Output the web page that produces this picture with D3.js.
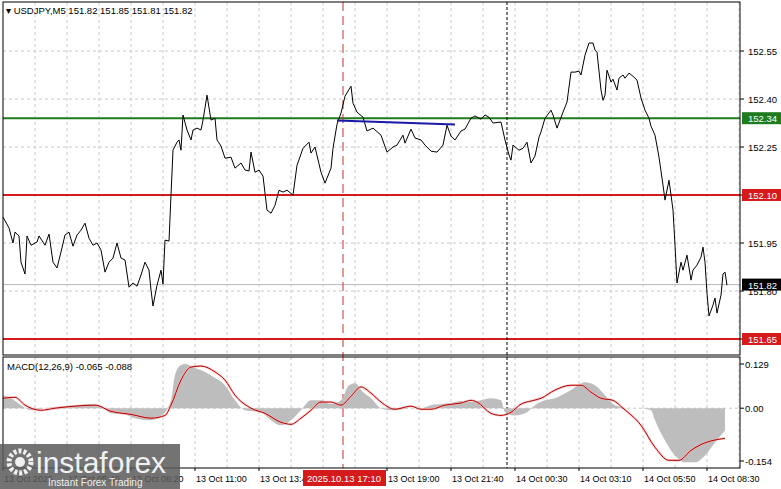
<!DOCTYPE html>
<html><head><meta charset="utf-8">
<script src="https://cdn.jsdelivr.net/npm/d3@7/dist/d3.min.js"></script>
<style>body{margin:0;background:#fff}text{font-family:"Liberation Sans",Arial,sans-serif}</style>
</head><body><svg id="c" width="781" height="489"></svg>
<script>
// bar index (5-minute bars) and close prices
const priceIdx=[0,3,5,6,8,9,11,12,14,17,18,21,23,25,27,29,31,33,35,37,39,41,43,45,47,49,51,53,55,57,59,61,63,65,67,69,71,73,74,75,77,79,80,81,83,84,85,87,88,89,90,92,94,95,97,99,100,102,104,106,107,109,111,114,116,119,121,123,
124,126,128,130,132,134,136,138,140,142,145,147,150,153,154,156,159,161,164,165,167,169,171,174,175,177,180,182,185,189,192,195,197,200,201,204,206,209,211,214,217,220,222,224,226,229,231,234,236,239,241,243,245,
249,251,253,254,255,258,260,262,264,266,268,269,271,274,275,277,280,282,284,286,288,289,291,293,295,296,297,299,300,301,302,304,305,307,308,310,311,313,315,317,319,321,323,324,326,328,330,331,333,334,335,336,337,339,340,342,344,345,347,349,350,351,352,353,355,356,357,359,360,361,362];
const priceVal=[152.031,151.997,151.950,151.984,151.972,151.890,151.853,151.972,151.943,151.953,151.972,151.943,151.978,151.890,151.872,151.922,151.975,151.984,151.940,151.975,151.990,152.012,151.965,151.943,151.950,151.928,151.859,151.890,151.903,151.950,151.903,151.897,151.812,151.825,151.815,151.850,151.890,151.865,151.803,151.753,151.818,151.865,151.822,151.959,151.956,152.100,152.240,152.265,152.272,152.240,152.350,152.303,152.272,152.303,152.309,152.303,152.334,152.412,152.334,152.340,152.272,152.253,152.215,152.218,152.184,152.200,152.178,152.175,
152.234,152.171,152.178,152.159,152.053,152.043,152.068,152.115,152.109,152.115,152.100,152.193,152.246,152.265,152.231,152.250,152.171,152.137,152.184,152.246,152.321,152.356,152.409,152.440,152.387,152.359,152.343,152.300,152.309,152.287,152.234,152.250,152.256,152.287,152.262,152.306,152.278,152.272,152.256,152.237,152.234,152.256,152.318,152.284,152.272,152.300,152.306,152.340,152.347,152.337,152.350,152.343,152.325,
152.328,152.272,152.225,152.209,152.256,152.240,152.246,152.265,152.200,152.222,152.281,152.297,152.340,152.365,152.350,152.309,152.359,152.390,152.484,152.484,152.487,152.475,152.537,152.575,152.575,152.553,152.546,152.428,152.396,152.412,152.490,152.453,152.462,152.428,152.465,152.475,152.465,152.481,152.471,152.459,152.403,152.365,152.340,152.315,152.287,152.218,152.131,152.084,152.146,152.100,152.053,151.943,151.825,151.890,151.865,151.912,151.834,151.865,151.881,151.906,151.937,151.890,151.793,151.722,151.756,151.778,151.731,151.787,151.853,151.859,151.818];
const histIdx=[0,4,9,14,21,29,36,44,49,54,61,66,74,79,84,86,89,91,96,101,106,111,116,121,129,134,139,144,149,154,159,164,169,173,176,180,184,189,194,199,204,209,214,219,224,229,234,239,244,249,251,256,261,266,271,276,284,291,296,301,306,314,319,324,326,331,336,341,346,351,356,361];
const histVal=[0.038,0.029,0.009,-0.006,0,0.006,0.009,0.012,0.006,-0.015,-0.018,-0.029,-0.035,-0.023,0.023,0.097,0.126,0.129,0.117,0.106,0.088,0.067,0.023,-0.006,-0.012,-0.035,-0.050,-0.035,-0.006,0.023,0.023,0.012,0.023,0.067,0.073,0.047,0.029,0,-0.006,-0.003,0,0,0.009,0.012,0.015,0.021,0.018,0.023,0.029,0.023,-0.012,-0.021,-0.015,0.009,0.023,0.029,0.053,0.076,0.067,0.038,0.009,0,0,-0.006,-0.035,-0.094,-0.138,-0.158,-0.158,-0.138,-0.100,-0.065];
const sigIdx=[0,6,11,19,26,36,46,54,64,74,81,84,89,94,99,106,111,116,124,131,139,144,149,154,159,164,169,174,179,184,189,196,204,209,214,221,229,234,237,244,249,254,259,264,269,276,284,289,294,299,305,310,319,326,333,338,344,349,355,361];
const sigVal=[0.029,0.032,0.009,-0.006,0,0.006,0.009,-0.009,-0.018,-0.029,-0.021,0.009,0.082,0.120,0.123,0.106,0.082,0.038,0,-0.015,-0.041,-0.047,-0.029,-0.006,0.018,0.018,0.009,0.035,0.062,0.044,0.018,-0.003,0.006,-0.003,-0.003,0.009,0.015,0.023,0.018,-0.015,-0.021,-0.012,0.012,0.021,0.029,0.053,0.067,0.067,0.047,0.029,0.023,0,-0.050,-0.114,-0.152,-0.152,-0.123,-0.106,-0.094,-0.088];
const priceTicks=[152.55,152.40,152.25,152.10,151.95,151.80,151.65];
const macdTicks=[0.129,0.00,-0.154];
const timeTickIdx=[0,32,64,96,128,192,224,256,288,320,352];
const timeTickLab=["13 Oct 2025","13 Oct 05:40","13 Oct 08:20","13 Oct 11:00","13 Oct 13:40","13 Oct 19:00","13 Oct 21:40","14 Oct 00:30","14 Oct 03:10","14 Oct 05:50","14 Oct 08:30"];
const levels=[{v:152.34,c:"#1e7b1e"},{v:152.10,c:"#d41a1a"},{v:151.65,c:"#d41a1a"}];
const lastPrice=151.82, cursorIdx=170, cursorLab="2025.10.13 17:10", sepIdx=252;
const blueLine={i0:167,v0:152.333,i1:226,v1:152.320};

const svg=d3.select("#c");
const L=3,R=740,T=2,B=355,MT=357,MB=468;
const x=d3.scaleLinear().domain([0,1]).range([L,L+2]);
const y=d3.scaleLinear().domain([152.55,151.65]).range([51,339]);
const ym=d3.scaleLinear().domain([0.129,-0.154]).range([364,461]);
const grid="#c8c8c8", FS=9.5;
for(let k=16;k<=368;k+=16){const gx=x(k);
 [[T,B],[MT,MB]].forEach(([a,b])=>svg.append("line").attr("x1",gx).attr("x2",gx).attr("y1",a).attr("y2",b).attr("stroke",grid).attr("stroke-dasharray","3,3"));}
priceTicks.forEach(v=>svg.append("line").attr("x1",L).attr("x2",R).attr("y1",y(v)).attr("y2",y(v)).attr("stroke",grid).attr("stroke-dasharray","3,3"));
svg.append("line").attr("x1",L).attr("x2",R).attr("y1",ym(0)).attr("y2",ym(0)).attr("stroke",grid).attr("stroke-dasharray","3,3");
svg.append("line").attr("x1",L).attr("x2",R).attr("y1",y(lastPrice)).attr("y2",y(lastPrice)).attr("stroke","#b8b8b8");
levels.forEach(l=>svg.append("line").attr("x1",L).attr("x2",R).attr("y1",y(l.v)).attr("y2",y(l.v)).attr("stroke",l.c).attr("stroke-width",2));
svg.append("line").attr("x1",x(cursorIdx)).attr("x2",x(cursorIdx)).attr("y1",T).attr("y2",MB).attr("stroke","#c83030").attr("stroke-dasharray","9,5");
svg.append("line").attr("x1",x(sepIdx)).attr("x2",x(sepIdx)).attr("y1",T).attr("y2",MB).attr("stroke","#000").attr("stroke-dasharray","3,2");
const pts=priceIdx.map((d,i)=>[d,priceVal[i]]);
svg.append("path").attr("d",d3.line().x(d=>x(d[0])).y(d=>y(d[1]))(pts)).attr("fill","none").attr("stroke","#000").attr("stroke-width",1);
svg.append("line").attr("x1",x(blueLine.i0)).attr("x2",x(blueLine.i1)).attr("y1",y(blueLine.v0)).attr("y2",y(blueLine.v1)).attr("stroke","#1a1aa8").attr("stroke-width",2);
const hp=histIdx.map((d,i)=>[d,histVal[i]]);
svg.append("path").attr("d",d3.area().x(d=>x(d[0])).y0(ym(0)).y1(d=>ym(d[1])).curve(d3.curveMonotoneX)(hp)).attr("fill","#bdbdbd");
const sp=sigIdx.map((d,i)=>[d,sigVal[i]]);
const sl=d3.line().x(d=>x(d[0])).y(d=>ym(d[1])).curve(d3.curveMonotoneX)(sp);
svg.append("path").attr("d",sl).attr("fill","none").attr("stroke","#ffb0b0").attr("stroke-width",2.5).attr("opacity",.6);
svg.append("path").attr("d",sl).attr("fill","none").attr("stroke","#b00000").attr("stroke-width",1);
svg.append("rect").attr("x",L).attr("y",T).attr("width",R-L).attr("height",B-T).attr("fill","none").attr("stroke","#000");
svg.append("rect").attr("x",L).attr("y",MT).attr("width",R-L).attr("height",MB-MT).attr("fill","none").attr("stroke","#000");
priceTicks.forEach(v=>{svg.append("line").attr("x1",R).attr("x2",R+4).attr("y1",y(v)).attr("y2",y(v)).attr("stroke","#000");
 svg.append("text").attr("x",748).attr("y",y(v)+4).attr("font-size",FS).text(v.toFixed(2));});
macdTicks.forEach(v=>{svg.append("line").attr("x1",R).attr("x2",R+4).attr("y1",ym(v)).attr("y2",ym(v)).attr("stroke","#000");
 svg.append("text").attr("x",745).attr("y",ym(v)+4).attr("font-size",FS).text(v===0?"0.00":v.toFixed(3));});
function box(v,c){svg.append("rect").attr("x",742).attr("y",y(v)-6).attr("width",39).attr("height",12).attr("fill",c);
 svg.append("text").attr("x",748).attr("y",y(v)+4).attr("font-size",FS).attr("fill","#fff").text(v.toFixed(2));}
levels.forEach(l=>box(l.v,l.c)); box(lastPrice,"#000");
timeTickIdx.forEach((d,i)=>{svg.append("line").attr("x1",x(d)).attr("x2",x(d)).attr("y1",MB).attr("y2",MB+3).attr("stroke","#000");
 svg.append("text").attr("x",x(d)+1).attr("y",482).attr("font-size",9).text(timeTickLab[i]);});
svg.append("rect").attr("x",x(cursorIdx)-40).attr("y",470).attr("width",83).attr("height",16).attr("fill","#d41a1a");
svg.append("text").attr("x",x(cursorIdx)-36).attr("y",482).attr("font-size",9.5).attr("fill","#fff").text(cursorLab);
svg.append("text").attr("x",6).attr("y",14).attr("font-size",FS).text("▾ USDJPY,M5  151.82 151.85 151.81 151.82");
svg.append("text").attr("x",7).attr("y",370).attr("font-size",FS).text("MACD(12,26,9) -0.065 -0.088");
const w=svg.append("g");
w.append("rect").attr("x",0).attr("y",444).attr("width",180).attr("height",45).attr("fill","#5a5a5a").attr("opacity",.85);
w.append("circle").attr("cx",20).attr("cy",462).attr("r",11).attr("fill","none").attr("stroke","#fff").attr("stroke-width",5).attr("stroke-dasharray","3,2").attr("opacity",.9);
w.append("circle").attr("cx",20).attr("cy",462).attr("r",5).attr("fill","#fff").attr("opacity",.9);
w.append("text").attr("x",36).attr("y",473).attr("font-size",30).attr("fill","#fff").attr("opacity",.9).text("instaforex");
w.append("text").attr("x",48).attr("y",486).attr("font-size",10).attr("fill","#fff").attr("opacity",.9).text("Instant Forex Trading");
</script></body></html>
